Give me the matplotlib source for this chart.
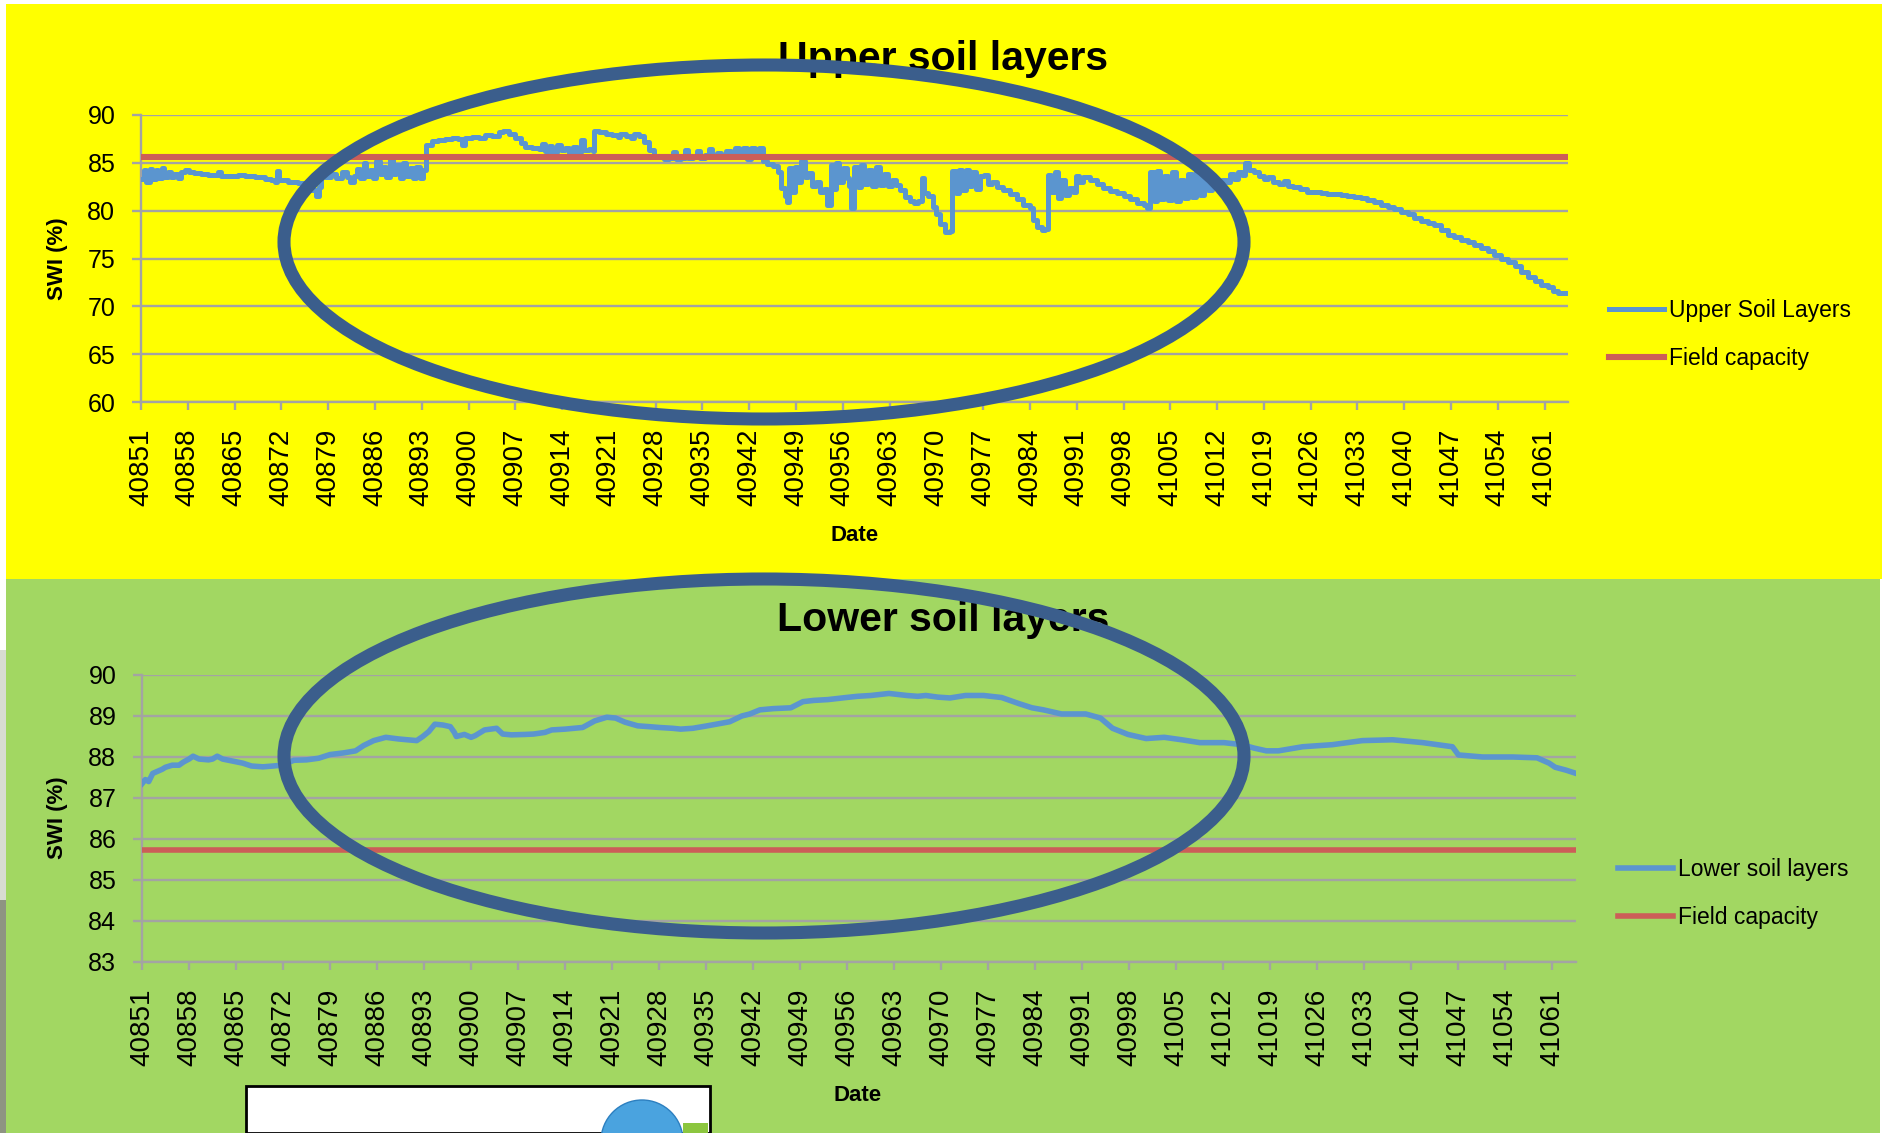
import matplotlib
matplotlib.use("Agg")
import matplotlib.pyplot as plt
from matplotlib.patches import Rectangle, Ellipse

# ---------------- data ----------------
x_ticks = list(range(40851, 41062, 7))

upper_title = "Upper soil layers"
lower_title = "Lower soil layers"
y_label = "SWI (%)"
x_label = "Date"
upper_series_name = "Upper Soil Layers"
lower_series_name = "Lower soil layers"
fc_name = "Field capacity"

upper_yticks = [60, 65, 70, 75, 80, 85, 90]
lower_yticks = [83, 84, 85, 86, 87, 88, 89, 90]

upper_field_capacity = 85.6
lower_field_capacity = 85.73

upper_days = [
    40851.0, 40851.4, 40851.8, 40852.3, 40852.7, 40853.2, 40853.6, 40854.1, 40854.5, 40855.0,
    40855.5, 40856.0, 40856.5, 40857.0, 40857.6, 40858.2, 40859.0, 40860.0, 40861.0, 40862.0,
    40862.5, 40863.0, 40864.5, 40865.5, 40866.5, 40868.0, 40869.5, 40870.5, 40871.0, 40871.3,
    40871.6, 40873.0, 40874.5, 40875.5, 40876.5, 40877.2, 40877.6, 40878.0, 40878.6, 40879.4,
    40880.2, 40881.0, 40881.8, 40882.3, 40882.8, 40883.3, 40883.8, 40884.3, 40884.7, 40885.2,
    40885.7, 40886.2, 40886.7, 40887.2, 40887.7, 40888.2, 40888.7, 40889.2, 40889.7, 40890.2,
    40890.7, 40891.2, 40891.7, 40892.2, 40892.7, 40893.2, 40893.6, 40894.5, 40895.5, 40896.5,
    40897.5, 40898.5, 40899.0, 40899.5, 40900.5, 40901.5, 40902.5, 40903.5, 40904.5, 40905.2,
    40906.0, 40907.0, 40907.8, 40908.5, 40909.5, 40910.5, 40911.0, 40911.4, 40912.0, 40912.5,
    40913.2, 40913.8, 40914.5, 40915.0, 40915.6, 40916.2, 40916.8, 40917.3, 40918.0, 40918.6,
    40918.8, 40919.5, 40920.5, 40921.5, 40922.3, 40922.7, 40923.5, 40924.3, 40924.8, 40925.5,
    40926.2, 40927.0, 40927.7, 40928.5, 40929.3, 40930.0, 40930.6, 40931.0, 40931.8, 40932.4,
    40932.9, 40933.6, 40934.2, 40934.7, 40935.4, 40936.0, 40936.5, 40937.2, 40937.8, 40938.5,
    40939.2, 40939.8, 40940.4, 40941.0, 40941.6, 40942.2, 40942.8, 40943.4, 40944.0, 40944.6,
    40945.5, 40946.3, 40946.8, 40947.3, 40947.7, 40948.0, 40948.4, 40948.9, 40949.3, 40949.8,
    40950.3, 40950.8, 40951.4, 40952.0, 40952.6, 40953.2, 40953.7, 40954.2, 40954.6, 40955.0,
    40955.5, 40956.0, 40956.6, 40957.0, 40957.3, 40957.7, 40958.2, 40958.7, 40959.2, 40959.8,
    40960.4, 40961.0, 40961.6, 40962.2, 40962.8, 40963.4, 40964.0, 40964.6, 40965.3, 40966.0,
    40966.7, 40967.3, 40967.8, 40968.2, 40968.8, 40969.5, 40970.0, 40970.6, 40971.3, 40972.0,
    40972.4, 40972.9, 40973.4, 40973.9, 40974.4, 40974.9, 40975.4, 40976.0, 40976.5, 40977.1,
    40977.7, 40978.3, 40979.0, 40980.0, 40981.0, 40982.0, 40983.0, 40984.0, 40984.5, 40985.0,
    40985.8, 40986.3, 40986.7, 40987.2, 40987.7, 40988.2, 40988.7, 40989.2, 40989.8, 40990.4,
    40990.9, 40991.4, 40992.0, 40993.0, 40994.0, 40995.0, 40996.0, 40997.0, 40998.0, 40999.0,
    41000.0, 41001.0, 41001.5, 41002.0, 41002.5, 41003.0, 41003.5, 41004.0, 41004.6, 41005.2,
    41005.8, 41006.4, 41007.0, 41007.6, 41008.2, 41008.8, 41009.4, 41010.0, 41010.6, 41011.2,
    41012.0, 41012.8, 41013.5, 41014.0, 41014.6, 41015.2, 41015.8, 41016.2, 41016.7, 41017.5,
    41018.3, 41019.0, 41019.6, 41020.4, 41021.2, 41022.0, 41022.6, 41023.4, 41024.4, 41025.4,
    41026.5, 41027.5, 41028.5, 41029.5, 41030.5, 41031.5, 41032.5, 41033.5, 41034.5, 41035.5,
    41036.5, 41037.5, 41038.5, 41039.5, 41040.5, 41041.5, 41042.5, 41043.5, 41044.5, 41045.5,
    41046.5, 41047.5, 41048.5, 41049.5, 41050.5, 41051.5, 41052.5, 41053.5, 41054.5, 41055.5,
    41056.5, 41057.5, 41058.5, 41059.5, 41060.5, 41061.5, 41062.3, 41063.0, 41064.0,
]
upper_swi = [
    83.3, 84.3, 83.0, 84.4, 83.3, 84.2, 83.4, 84.5, 83.5, 84.0,
    83.5, 83.8, 83.4, 84.0, 84.3, 84.0, 83.9, 83.8, 83.7, 83.7,
    84.0, 83.6, 83.6, 83.7, 83.6, 83.5, 83.3, 83.2, 83.0, 84.1,
    83.2, 83.0, 82.9, 82.5, 82.2, 81.5, 82.5, 84.0, 83.5, 83.8,
    83.4, 84.0, 83.5, 83.0, 83.6, 84.4, 83.4, 85.0, 83.6, 84.2,
    83.4, 85.2, 83.8, 84.6, 83.5, 85.4, 83.8, 84.8, 83.4, 85.0,
    83.6, 84.5, 83.4, 84.6, 83.4, 84.2, 86.9, 87.3, 87.4, 87.5,
    87.6, 87.5, 86.9, 87.6, 87.7, 87.6, 87.9, 87.8, 88.2, 88.3,
    88.0, 87.6, 87.1, 86.7, 86.5, 86.4, 87.0, 86.2, 86.8, 86.1,
    86.9, 86.3, 86.6, 86.0, 86.7, 86.1, 87.4, 86.3, 86.4, 86.2,
    88.3, 88.2, 88.0, 87.9, 87.7, 88.0, 87.8, 87.6, 88.0, 87.8,
    87.2, 86.3, 85.7, 85.6, 85.4, 85.5, 86.1, 85.4, 85.5, 86.3,
    85.5, 85.6, 86.2, 85.5, 85.8, 86.4, 85.7, 86.0, 85.8, 86.2,
    85.9, 86.6, 85.8, 86.6, 85.4, 86.5, 85.6, 86.6, 85.2, 84.9,
    84.7, 84.0, 82.4, 81.5, 80.9, 84.5, 82.0, 84.6, 83.0, 85.2,
    83.5, 83.9, 82.6, 83.0, 81.9, 82.3, 80.6, 84.8, 82.3, 85.0,
    83.0, 84.5, 83.4, 82.6, 80.3, 84.6, 82.5, 84.8, 82.8, 84.3,
    82.6, 84.6, 82.7, 83.8, 82.6, 83.2, 82.7, 82.2, 81.4, 81.0,
    80.8, 81.0, 83.4, 81.8, 81.5, 80.4, 79.6, 78.6, 77.8, 77.9,
    84.1, 81.8, 84.2, 82.2, 84.3, 82.6, 84.0, 82.3, 83.6, 83.7,
    82.8, 83.0, 82.5, 82.2, 81.7, 81.2, 80.6, 80.3, 79.0, 78.3,
    78.0, 78.1, 83.7, 82.0, 84.0, 81.3, 83.2, 81.6, 82.4, 82.0,
    83.6, 83.0, 83.5, 83.2, 82.8, 82.4, 82.1, 81.8, 81.5, 81.2,
    80.8, 80.6, 80.3, 84.0, 81.0, 84.1, 81.2, 83.6, 81.1, 84.0,
    81.0, 83.2, 81.3, 83.8, 81.4, 84.3, 81.6, 83.6, 82.2, 83.0,
    82.8, 83.2, 83.0, 83.8, 83.3, 84.0, 83.7, 85.0, 84.3, 84.0,
    83.6, 83.3, 83.5, 83.0, 82.8, 83.1, 82.6, 82.5, 82.3, 82.0,
    81.9, 81.8, 81.7, 81.7, 81.6, 81.5, 81.4, 81.3, 81.1, 80.9,
    80.6, 80.4, 80.2, 79.9, 79.6, 79.2, 78.9, 78.7, 78.5, 78.0,
    77.5, 77.2, 76.9, 76.7, 76.4, 76.1, 75.8, 75.4, 75.0, 74.6,
    74.2, 73.6, 73.1, 72.6, 72.2, 72.0, 71.6, 71.4, 71.4,
]

lower_days = [
    40851.0, 40851.5, 40852.0, 40852.6, 40853.3, 40854.0, 40854.5, 40855.5, 40856.5, 40857.2,
    40858.0, 40858.6, 40859.5, 40860.9, 40861.5, 40862.2, 40863.0, 40864.5, 40866.0, 40867.3,
    40869.0, 40870.5, 40871.8, 40873.6, 40875.5, 40877.3, 40879.0, 40881.0, 40882.8, 40884.0,
    40885.5, 40887.3, 40889.2, 40890.5, 40891.9, 40892.8, 40893.7, 40894.6, 40895.8, 40896.9,
    40897.5, 40897.8, 40899.0, 40900.0, 40900.6, 40902.0, 40903.8, 40904.7, 40906.0, 40908.0,
    40909.3, 40911.0, 40912.0, 40914.0, 40916.6, 40918.4, 40920.2, 40921.5, 40922.9, 40924.8,
    40926.5, 40928.0, 40930.0, 40931.2, 40933.0, 40934.8, 40936.5, 40938.5, 40940.3, 40941.5,
    40943.0, 40945.0, 40947.6, 40949.4, 40951.0, 40953.1, 40955.8, 40957.5, 40959.5, 40962.2,
    40964.9, 40966.5, 40967.7, 40969.5, 40971.3, 40973.6, 40976.3, 40979.0, 40981.6, 40983.5,
    40985.2, 40987.9, 40991.5, 40993.7, 40995.5, 40997.8, 41000.5, 41003.2, 41005.8, 41008.5,
    41012.1, 41014.8, 41016.5, 41018.4, 41020.2, 41023.8, 41028.2, 41032.7, 41037.2, 41041.7,
    41046.1, 41047.0, 41050.6, 41055.1, 41058.7, 41060.5, 41061.4, 41063.0, 41064.5,
]
lower_swi = [
    87.35, 87.45, 87.40, 87.60, 87.65, 87.70, 87.75, 87.80, 87.80, 87.88,
    87.95, 88.02, 87.95, 87.93, 87.95, 88.02, 87.95, 87.90, 87.85, 87.78,
    87.76, 87.78, 87.80, 87.92, 87.93, 87.97, 88.06, 88.10, 88.15, 88.28,
    88.40, 88.48, 88.44, 88.42, 88.40, 88.50, 88.62, 88.80, 88.78, 88.74,
    88.60, 88.50, 88.55, 88.48, 88.52, 88.66, 88.70, 88.56, 88.54, 88.55,
    88.56, 88.60, 88.66, 88.68, 88.72, 88.88, 88.97, 88.95, 88.85, 88.76,
    88.74, 88.72, 88.70, 88.68, 88.70, 88.75, 88.80, 88.86, 89.00, 89.05,
    89.15, 89.18, 89.20, 89.35, 89.38, 89.40, 89.45, 89.48, 89.50, 89.55,
    89.50, 89.48, 89.50, 89.46, 89.44, 89.50, 89.50, 89.45, 89.30, 89.20,
    89.15, 89.05, 89.05, 88.95, 88.70, 88.55, 88.45, 88.48, 88.42, 88.35,
    88.35, 88.30, 88.22, 88.15, 88.15, 88.25, 88.30, 88.40, 88.42, 88.35,
    88.25, 88.05, 88.00, 88.00, 87.98, 87.85, 87.75, 87.68, 87.60,
]

# ---------------- style ----------------
W, H = 1883, 1133
YELLOW = "#FFFF00"
GREEN = "#A2D762"
BLUE = "#5B95CF"
RED = "#CC5E58"
GRID = "#A3A3A3"
ELLIPSE = "#3B5E8C"
NARROW = ["Liberation Sans Narrow", "Liberation Sans", "DejaVu Sans"]
SANS = ["Liberation Sans", "DejaVu Sans"]

plt.rcParams["font.family"] = SANS


def fx(x):
    return x / W


def fy(y):
    return 1 - y / H


fig = plt.figure(figsize=(W / 100, H / 100), dpi=100, facecolor="white")

# background panels
fig.patches.append(Rectangle((fx(6), fy(579)), fx(W - 6), fy(4) - fy(579),
                             transform=fig.transFigure, facecolor=YELLOW, edgecolor="none", zorder=-10))
fig.patches.append(Rectangle((fx(6), 0), fx(1880 - 6), fy(579), transform=fig.transFigure,
                             facecolor=GREEN, edgecolor="none", zorder=-10))
fig.patches.append(Rectangle((0, 0), fx(6), fy(900), transform=fig.transFigure,
                             facecolor="#8E9482", edgecolor="none", zorder=-10))
fig.patches.append(Rectangle((0, fy(900)), fx(6), fy(650) - fy(900), transform=fig.transFigure,
                             facecolor="#D8DCD2", edgecolor="none", zorder=-10))


def setup_axes(rect_px, yticks, ylim):
    l, t, r, b = rect_px
    ax = fig.add_axes([fx(l), fy(b), fx(r - l), (b - t) / H])
    ax.set_facecolor("none")
    ax.set_xlim(40851, 41064.5)
    ax.set_ylim(*ylim)
    ax.set_yticks(yticks)
    ax.set_yticklabels([str(v) for v in yticks], fontfamily=SANS, fontsize=18)
    ax.set_xticks(x_ticks)
    ax.set_xticklabels([str(v) for v in x_ticks], rotation=90, fontfamily=NARROW, fontsize=20)
    ax.grid(axis="y", color=GRID, linewidth=1.7, zorder=0)
    ax.set_axisbelow(True)
    for s in ["top", "right"]:
        ax.spines[s].set_visible(False)
    for s in ["left", "bottom"]:
        ax.spines[s].set_color(GRID)
        ax.spines[s].set_linewidth(1.7)
    ax.tick_params(axis="y", length=6.5, width=1.7, color=GRID, pad=12)
    ax.tick_params(axis="x", length=6, width=1.7, color=GRID, pad=13)
    return ax


ax1 = setup_axes((141, 115, 1568, 402), upper_yticks, (60, 90))
ax2 = setup_axes((142, 675, 1576, 962), lower_yticks, (83, 90))

l1, = ax1.plot(upper_days, upper_swi, color=BLUE, linewidth=3.6, zorder=3,
               drawstyle="steps-post")
f1 = ax1.axhline(upper_field_capacity, color=RED, linewidth=4.4, zorder=4)
l2, = ax2.plot(lower_days, lower_swi, color=BLUE, linewidth=4.0, zorder=3)
f2 = ax2.axhline(lower_field_capacity, color=RED, linewidth=4.0, zorder=4)

# legends
for ax, handles, labels, xl, ytop in [
    (ax1, [l1, f1], [upper_series_name, fc_name], 1609, 299),
    (ax2, [l2, f2], [lower_series_name, fc_name], 1618, 858),
]:
    ax.legend(handles, labels, loc="upper left", bbox_to_anchor=(fx(xl), fy(ytop)),
              bbox_transform=fig.transFigure, frameon=False, borderaxespad=0, borderpad=0,
              handlelength=2.4, handletextpad=0.2, labelspacing=1.1,
              prop={"family": SANS, "size": 16.5})

# titles and axis labels
fig.text(fx(943), fy(70), upper_title, ha="center", va="baseline", fontsize=29.5,
         fontweight="bold", family=SANS)
fig.text(fx(943), fy(631), lower_title, ha="center", va="baseline", fontsize=29.5,
         fontweight="bold", family=SANS)
fig.text(fx(57), fy(259), y_label, ha="center", va="center", rotation=90, fontsize=16,
         fontweight="bold", family=SANS)
fig.text(fx(57), fy(818), y_label, ha="center", va="center", rotation=90, fontsize=16,
         fontweight="bold", family=SANS)
fig.text(fx(855), fy(541), x_label, ha="center", va="baseline", fontsize=16,
         fontweight="bold", family=SANS)
fig.text(fx(858), fy(1101), x_label, ha="center", va="baseline", fontsize=16,
         fontweight="bold", family=SANS)

# highlight ellipses
for cy in (242, 756):
    fig.patches.append(Ellipse((fx(764), fy(cy)), 2 * 480 / W, 2 * 177 / H,
                               transform=fig.transFigure, fill=False, edgecolor=ELLIPSE,
                               linewidth=9.4, zorder=20))

# logo box at the bottom
fig.patches.append(Rectangle((fx(246), 0), fx(710 - 246), fy(1097) + 0.01,
                             transform=fig.transFigure, facecolor="white",
                             edgecolor="black", linewidth=2, zorder=21))
fig.patches.append(Rectangle((fx(683), 0), fx(708 - 683), fy(1123),
                             transform=fig.transFigure, facecolor="#8CC63F",
                             edgecolor="none", zorder=22))
fig.patches.append(Ellipse((fx(642), fy(1141)), 2 * 41 / W, 2 * 41 / H,
                           transform=fig.transFigure, facecolor="#4AA3DF",
                           edgecolor="#2C7FC0", linewidth=1, zorder=23))

fig.savefig("out.png", dpi=100, facecolor=fig.get_facecolor())
